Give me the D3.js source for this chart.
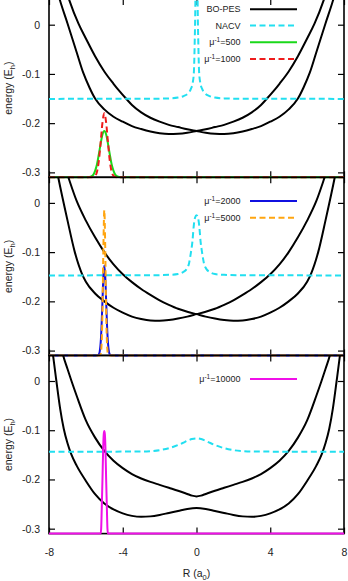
<!DOCTYPE html>
<html>
<head>
<meta charset="utf-8">
<script src="https://cdn.jsdelivr.net/npm/d3@7"></script>
<style>
  body { margin: 0; background: #fff; }
  svg { display: block; }
  text { font-family: "Liberation Sans", Arial, sans-serif; fill: #222; }
</style>
</head>
<body>
<div id="chart"></div>
<script>
// ---- data: [R (a0), energy (Eh)] ----
// panel 1
const bo1a = [[-7.7,0.09],[-7.41,0.05],[-7,0.003],[-6.5,-0.056],[-6.15,-0.097],[-5.8,-0.128],[-5.5,-0.15],[-5,-0.172],[-4.5,-0.187],[-4,-0.197],[-3.5,-0.206],[-3,-0.212],[-2.5,-0.217],[-2,-0.2205],[-1.5,-0.222],[-1,-0.2215],[-0.5,-0.2195],[0,-0.216],[0.5,-0.2125],[1,-0.208],[1.5,-0.2035],[2,-0.197],[2.5,-0.189],[3,-0.178],[3.5,-0.163],[3.8,-0.151],[4.2,-0.134],[4.5,-0.12],[5,-0.095],[5.5,-0.064],[6,-0.028],[6.4,0.002],[6.9,0.05],[7.2,0.085]];
const bo1b = [[-7.2,0.085],[-6.9,0.05],[-6.4,0.002],[-6,-0.028],[-5.5,-0.064],[-5,-0.095],[-4.5,-0.12],[-4.2,-0.134],[-3.8,-0.151],[-3.5,-0.163],[-3,-0.178],[-2.5,-0.189],[-2,-0.197],[-1.5,-0.2035],[-1,-0.208],[-0.5,-0.2125],[0,-0.216],[0.5,-0.2195],[1,-0.2215],[1.5,-0.222],[2,-0.2205],[2.5,-0.217],[3,-0.212],[3.5,-0.206],[4,-0.197],[4.5,-0.187],[5,-0.172],[5.5,-0.15],[5.8,-0.128],[6.15,-0.097],[6.5,-0.056],[7,0.003],[7.41,0.05],[7.7,0.09]];
const nacv1 = [[-8,-0.1507],[-2.5,-0.1505],[-1.5,-0.1497],[-1,-0.148],[-0.7,-0.145],[-0.45,-0.139],[-0.3,-0.13],[-0.2,-0.117],[-0.14,-0.095],[-0.1,-0.04],[-0.06,0.05],[0,0.4],[0.06,0.05],[0.1,-0.04],[0.14,-0.095],[0.2,-0.117],[0.3,-0.13],[0.45,-0.139],[0.7,-0.145],[1,-0.148],[1.5,-0.1497],[2.5,-0.1505],[8,-0.1507]];
const wp500 = [[-8,-0.31],[-6,-0.31],[-5.8,-0.3094],[-5.7,-0.308],[-5.6,-0.305],[-5.5,-0.297],[-5.4,-0.284],[-5.3,-0.264],[-5.2,-0.242],[-5.1,-0.223],[-5,-0.216],[-4.9,-0.223],[-4.8,-0.242],[-4.7,-0.264],[-4.6,-0.284],[-4.5,-0.297],[-4.4,-0.305],[-4.3,-0.308],[-4.2,-0.3094],[-4,-0.31],[8,-0.31]];
const wp1000 = [[-8,-0.31],[-5.8,-0.31],[-5.6,-0.3095],[-5.5,-0.307],[-5.4,-0.299],[-5.3,-0.2775],[-5.2,-0.24],[-5.1,-0.199],[-5,-0.18],[-4.9,-0.199],[-4.8,-0.24],[-4.7,-0.2775],[-4.6,-0.299],[-4.5,-0.307],[-4.4,-0.3095],[-4.2,-0.31],[8,-0.31]];
// panel 2
const bo2a = [[-7.75,0.1],[-7.5,0.052],[-7,-0.035],[-6.6,-0.1],[-6.2,-0.145],[-6,-0.16],[-5.5,-0.184],[-5,-0.2],[-4.5,-0.213],[-4,-0.223],[-3.5,-0.231],[-3,-0.236],[-2.5,-0.239],[-2,-0.2395],[-1.5,-0.238],[-1,-0.235],[-0.5,-0.231],[0,-0.226],[0.5,-0.221],[1,-0.215],[1.5,-0.207],[2,-0.198],[2.5,-0.187],[3,-0.175],[3.5,-0.161],[4,-0.145],[4.5,-0.125],[5,-0.1],[5.5,-0.07],[6,-0.036],[6.5,0.004],[6.95,0.052],[7.2,0.08]];
const bo2b = [[-7.2,0.08],[-6.95,0.052],[-6.5,0.004],[-6,-0.036],[-5.5,-0.07],[-5,-0.1],[-4.5,-0.125],[-4,-0.145],[-3.5,-0.161],[-3,-0.175],[-2.5,-0.187],[-2,-0.198],[-1.5,-0.207],[-1,-0.215],[-0.5,-0.221],[0,-0.226],[0.5,-0.231],[1,-0.235],[1.5,-0.238],[2,-0.2395],[2.5,-0.239],[3,-0.236],[3.5,-0.231],[4,-0.223],[4.5,-0.213],[5,-0.2],[5.5,-0.184],[6,-0.16],[6.2,-0.145],[6.6,-0.1],[7,-0.035],[7.5,0.052],[7.75,0.1]];
const nacv2 = [[-8,-0.1473],[-2.5,-0.147],[-1.5,-0.1462],[-1,-0.1445],[-0.7,-0.14],[-0.55,-0.135],[-0.4,-0.122],[-0.3,-0.1],[-0.22,-0.078],[-0.15,-0.047],[-0.08,-0.03],[0,-0.025],[0.08,-0.03],[0.15,-0.047],[0.22,-0.078],[0.3,-0.1],[0.4,-0.122],[0.55,-0.135],[0.7,-0.14],[1,-0.1445],[1.5,-0.1462],[2.5,-0.147],[8,-0.1473]];
const wp2000 = [[-8,-0.31],[-5.4,-0.31],[-5.35,-0.3096],[-5.3,-0.308],[-5.25,-0.302],[-5.2,-0.285],[-5.15,-0.2505],[-5.1,-0.199],[-5.05,-0.1485],[-5,-0.127],[-4.95,-0.1485],[-4.9,-0.199],[-4.85,-0.2505],[-4.8,-0.285],[-4.75,-0.302],[-4.7,-0.308],[-4.65,-0.3096],[-4.6,-0.31],[8,-0.31]];
const wp5000 = [[-8,-0.31],[-5.25,-0.31],[-5.2,-0.3074],[-5.15,-0.289],[-5.1,-0.2197],[-5.05,-0.0905],[-5,-0.015],[-4.95,-0.0905],[-4.9,-0.2197],[-4.85,-0.289],[-4.8,-0.3074],[-4.75,-0.31],[8,-0.31]];
// panel 3
const bo3a = [[-7.45,0.09],[-7.23,0.052],[-7,0.025],[-6.78,0.0],[-6.5,-0.03],[-6,-0.08],[-5.5,-0.115],[-5,-0.142],[-4.5,-0.162],[-4,-0.177],[-3.5,-0.189],[-3,-0.198],[-2.5,-0.205],[-2,-0.211],[-1.5,-0.217],[-1,-0.223],[-0.5,-0.2295],[-0.25,-0.2328],[0,-0.2345],[0.25,-0.2328],[0.5,-0.2295],[1,-0.223],[1.5,-0.217],[2,-0.211],[2.5,-0.205],[3,-0.198],[3.5,-0.189],[4,-0.177],[4.5,-0.162],[5,-0.142],[5.5,-0.115],[6,-0.08],[6.5,-0.03],[6.78,0.0],[7,0.025],[7.23,0.052],[7.45,0.09]];
const bo3b = [[-7.9,0.09],[-7.78,0.052],[-7.6,0.0],[-7.4,-0.055],[-7.2,-0.097],[-7,-0.126],[-6.8,-0.148],[-6.5,-0.172],[-6,-0.203],[-5.5,-0.23],[-5,-0.249],[-4.5,-0.261],[-4,-0.269],[-3.5,-0.274],[-3,-0.276],[-2.5,-0.275],[-2,-0.272],[-1.5,-0.268],[-1,-0.264],[-0.5,-0.26],[0,-0.258],[0.5,-0.26],[1,-0.264],[1.5,-0.268],[2,-0.272],[2.5,-0.275],[3,-0.276],[3.5,-0.274],[4,-0.269],[4.5,-0.261],[5,-0.249],[5.5,-0.23],[6,-0.203],[6.5,-0.172],[6.8,-0.148],[7,-0.126],[7.2,-0.097],[7.4,-0.055],[7.6,0.0],[7.78,0.052],[7.9,0.09]];
const nacv3 = [[-8,-0.1436],[-3,-0.1434],[-2.5,-0.1425],[-2,-0.1405],[-1.5,-0.1365],[-1,-0.13],[-0.75,-0.126],[-0.5,-0.1215],[-0.25,-0.118],[0,-0.1165],[0.25,-0.118],[0.5,-0.1215],[0.75,-0.126],[1,-0.13],[1.5,-0.1365],[2,-0.1405],[2.5,-0.1425],[3,-0.1434],[8,-0.1436]];
const wp10000 = [[-8,-0.31],[-5.2,-0.31],[-5.17,-0.3],[-5.14,-0.26],[-5.1,-0.2],[-5.06,-0.135],[-5.03,-0.108],[-5,-0.1016],[-4.97,-0.108],[-4.94,-0.135],[-4.9,-0.2],[-4.86,-0.26],[-4.83,-0.3],[-4.8,-0.31],[8,-0.31]];

const muValues = [500, 1000, 2000, 5000, 10000];
const xTicks = [-8, -4, 0, 4, 8];
const yTicks = [0, -0.1, -0.2, -0.3];

// ---- layout ----
const width = 348, height = 581;
const left = 49, right = 344;
const panelTops = [-0.9, 177.3, 355.4], panelH = 178.2;
const yDomain = [-0.31, 0.052];

const colors = { bo: "#000", nacv: "#22dff0", g500: "#1ad81a", r1000: "#ee1c1c", b2000: "#1010e0", o5000: "#ffa510", m10000: "#f010e8" };

const panels = [
  { bo: [bo1a, bo1b], nacv: nacv1,
    wps: [{ d: wp500, c: colors.g500, dash: null, mu: muValues[0] }, { d: wp1000, c: colors.r1000, dash: "6,3.5", mu: muValues[1] }],
    rows: [9.3, 25.6, 42.3, 59.1], withBase: true },
  { bo: [bo2a, bo2b], nacv: nacv2,
    wps: [{ d: wp2000, c: colors.b2000, dash: null, mu: muValues[2] }, { d: wp5000, c: colors.o5000, dash: "6,3.5", mu: muValues[3] }],
    rows: [201, 217.7], withBase: false },
  { bo: [bo3a, bo3b], nacv: nacv3,
    wps: [{ d: wp10000, c: colors.m10000, dash: null, mu: muValues[4] }],
    rows: [379], withBase: false }
];

const svg = d3.select("#chart").append("svg")
  .attr("width", width).attr("height", height);

const x = d3.scaleLinear().domain([-8, 8]).range([left, right]);

panels.forEach((p, i) => {
  const top = panelTops[i];
  const y = d3.scaleLinear().domain(yDomain).range([top + panelH, top]);
  const g = svg.append("g");

  // axes with inward ticks
  const yfmt = d => (d === 0 ? "0" : String(d));
  g.append("g").attr("transform", `translate(${left},0)`)
    .call(d3.axisLeft(y).tickValues(yTicks).tickSize(-6).tickPadding(9).tickFormat(yfmt));
  g.append("g").attr("transform", `translate(${right},0)`)
    .call(d3.axisRight(y).tickValues(yTicks).tickSize(-6).tickFormat(""));
  g.append("g").attr("transform", `translate(0,${top})`)
    .call(d3.axisTop(x).tickValues(xTicks).tickSize(-6).tickFormat(""));
  g.append("g").attr("transform", `translate(0,${top + panelH})`)
    .call(d3.axisBottom(x).tickValues(xTicks).tickSize(-6).tickPadding(15)
      .tickFormat(i === 2 ? (d => String(d)) : ""));
  g.selectAll(".domain").remove();
  g.selectAll(".tick line").attr("stroke", "#000").attr("stroke-width", 1.2);
  g.selectAll(".tick text").attr("font-size", 10.5).attr("fill", "#222")
    .attr("font-family", "'Liberation Sans', Arial, sans-serif");

  // frame
  g.append("rect").attr("x", left).attr("y", top)
    .attr("width", right - left).attr("height", panelH)
    .attr("fill", "none").attr("stroke", "#000").attr("stroke-width", 1.6);

  // y label
  const yl = g.append("text")
    .attr("transform", `translate(12,${top + panelH / 2}) rotate(-90)`)
    .attr("text-anchor", "middle").attr("font-size", 10.5);
  yl.append("tspan").text("energy (E");
  yl.append("tspan").attr("font-size", 7.5).attr("dy", 3).text("h");
  yl.append("tspan").attr("dy", -3).text(")");

  // curves
  const clipId = "clip" + i;
  svg.append("clipPath").attr("id", clipId).append("rect")
    .attr("x", left - 1).attr("y", top).attr("width", right - left + 2).attr("height", panelH + 2);
  const plot = g.append("g").attr("clip-path", `url(#${clipId})`);
  const line = d3.line().x(d => x(d[0])).y(d => y(d[1])).curve(d3.curveMonotoneX);

  p.bo.forEach(d => plot.append("path").attr("d", line(d))
    .attr("fill", "none").attr("stroke", colors.bo).attr("stroke-width", 2));
  plot.append("path").attr("d", line(p.nacv))
    .attr("fill", "none").attr("stroke", colors.nacv).attr("stroke-width", 2)
    .attr("stroke-dasharray", "6,3.5");
  p.wps.forEach(w => plot.append("path").attr("d", line(w.d))
    .attr("fill", "none").attr("stroke", w.c).attr("stroke-width", 2)
    .attr("stroke-dasharray", w.dash));

  // legend
  const entries = [];
  if (p.withBase) {
    entries.push({ label: "BO-PES", c: colors.bo, dash: null });
    entries.push({ label: "NACV", c: colors.nacv, dash: "6,3.5" });
  }
  p.wps.forEach(w => entries.push({ mu: w.mu, c: w.c, dash: w.dash }));
  entries.forEach((e, k) => {
    const ry = p.rows[k];
    const t = g.append("text").attr("x", 240.5).attr("y", ry).attr("dy", "0.35em")
      .attr("text-anchor", "end").attr("font-size", 9);
    if (e.label) {
      t.text(e.label);
    } else {
      t.append("tspan").text("\u03bc");
      t.append("tspan").attr("font-size", 6.5).attr("dy", -3).text("-1");
      t.append("tspan").attr("dy", 3).text("=" + e.mu);
    }
    g.append("line").attr("x1", 250).attr("x2", 297).attr("y1", ry).attr("y2", ry)
      .attr("stroke", e.c).attr("stroke-width", 2).attr("stroke-dasharray", e.dash);
  });
});

// x label
const xl = svg.append("text").attr("x", x(0)).attr("y", 577)
  .attr("text-anchor", "middle").attr("font-size", 10.5);
xl.append("tspan").text("R (a");
xl.append("tspan").attr("font-size", 7.5).attr("dy", 3).text("0");
xl.append("tspan").attr("dy", -3).text(")");
</script>
</body>
</html>
